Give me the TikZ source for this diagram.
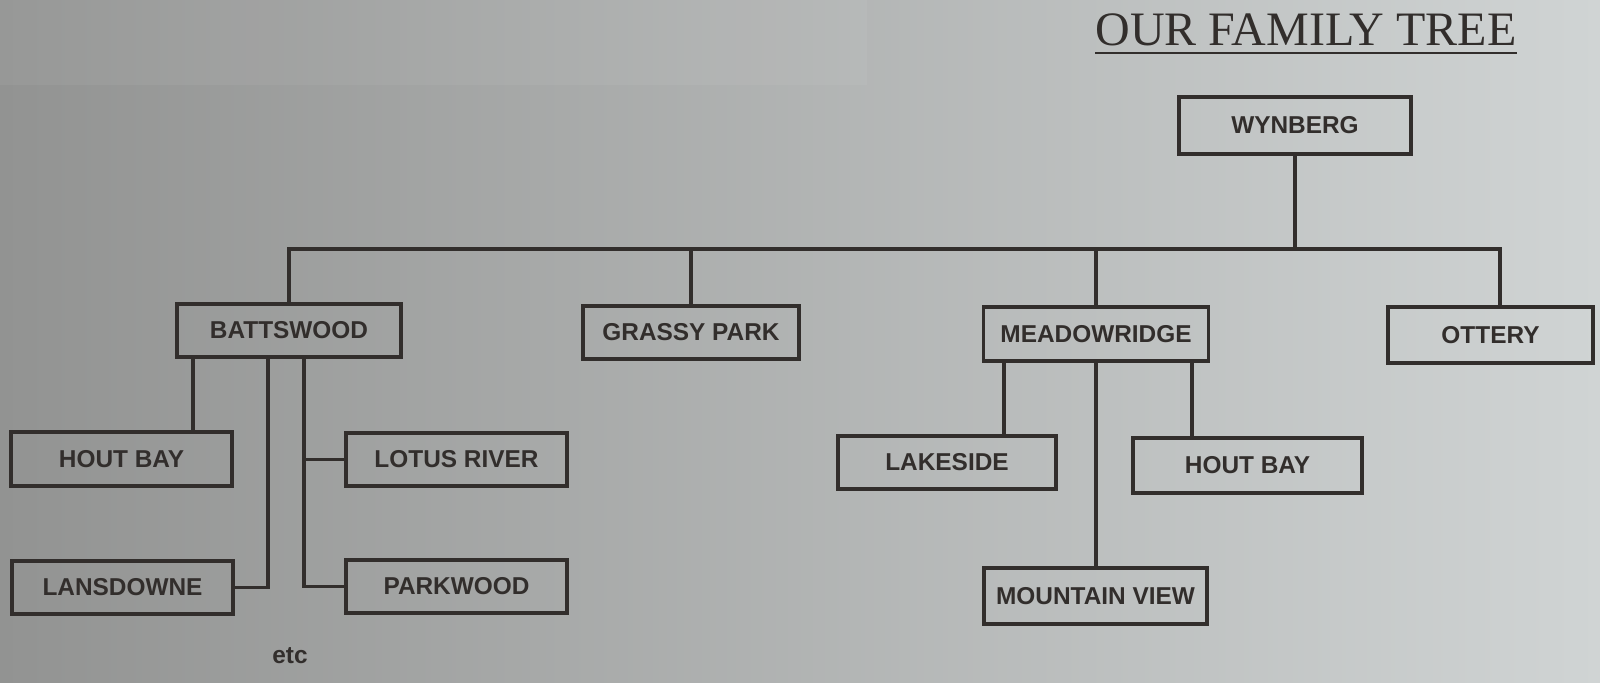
\documentclass[tikz,border=0pt]{standalone}
\usepackage{fontspec}
\setmainfont{Liberation Sans}
\newfontfamily\titlefont{Liberation Serif}
\usetikzlibrary{calc}
\definecolor{ink}{RGB}{50,46,44}
\definecolor{bgl}{RGB}{146,147,146}
\definecolor{bgr}{RGB}{208,212,212}
\begin{document}
\begin{tikzpicture}[x=0.5pt,y=-0.5pt,
  box/.style={draw=ink, line width=1.7pt, rectangle, inner sep=0pt, text=ink,
    font=\bfseries\fontsize{12.2pt}{14pt}\selectfont},
  link/.style={draw=ink, line width=1.6pt}]
\useasboundingbox (0,0) rectangle (1600,682);
\shade[left color=bgl, right color=bgr] (0,0) rectangle (1600,682);
\fill[white, opacity=0.05] (0,0) rectangle (867,85);

\node[anchor=base west, inner sep=0pt, text=ink, font=\titlefont\fontsize{24pt}{28pt}\selectfont] (T) at (1095,45) {OUR FAMILY TREE};
\draw[ink, line width=1.2pt] ($(T.base west)+(0,8)$) -- ($(T.base east)+(0,8)$);

\node[box, minimum width=116pt, minimum height=28.5pt] (W) at (1295,125.5) {WYNBERG};
\node[box, minimum width=112pt, minimum height=26.5pt] (B) at (289,330.5) {BATTSWOOD};
\node[box, minimum width=108pt, minimum height=26.5pt] (G) at (691,332.5) {GRASSY PARK};
\node[box, minimum width=112.5pt, minimum height=27pt] (M) at (1096,334) {MEADOWRIDGE};
\node[box, minimum width=102.5pt, minimum height=28pt] (O) at (1490.5,335) {OTTERY};
\node[box, minimum width=110.5pt, minimum height=27pt] (HL) at (121.5,459) {HOUT BAY};
\node[box, minimum width=110.5pt, minimum height=26.5pt] (LD) at (122.5,587.5) {LANSDOWNE};
\node[box, minimum width=110.5pt, minimum height=26.5pt] (LR) at (456.5,459.5) {LOTUS RIVER};
\node[box, minimum width=110.5pt, minimum height=26.5pt] (PW) at (456.5,586.5) {PARKWOOD};
\node[box, minimum width=109pt, minimum height=26.5pt] (LK) at (947,462.5) {LAKESIDE};
\node[box, minimum width=114.5pt, minimum height=27.5pt] (HR) at (1247.5,465.5) {HOUT BAY};
\node[box, minimum width=111.5pt, minimum height=28pt] (MV) at (1095.5,596) {MOUNTAIN VIEW};
\node[anchor=base, text=ink, inner sep=0pt, font=\bfseries\fontsize{12.2pt}{14pt}\selectfont] (etc) at (290,663) {etc};

\coordinate (bus) at (0,249);
\coordinate (xo) at (1500,0);
\coordinate (xhl) at (193,0);
\coordinate (xld) at (268,0);
\coordinate (xlr) at (304,0);
\coordinate (xlk) at (1004,0);
\coordinate (xhr) at (1192,0);

\draw[link] (W.south) -- (W.south |- bus);
\draw[link] (B.north) -- (B.north |- bus) -- (xo |- bus) -- (xo |- O.north);
\draw[link] (G.north) -- (G.north |- bus);
\draw[link] (M.north) -- (M.north |- bus);
\draw[link] (xhl |- B.south) -- (xhl |- HL.north);
\draw[link] (xld |- B.south) |- (LD.east);
\draw[link] (xlr |- B.south) |- (PW.west);
\draw[link] (xlr |- LR.west) -- (LR.west);
\draw[link] (xlk |- M.south) -- (xlk |- LK.north);
\draw[link] (xhr |- M.south) -- (xhr |- HR.north);
\draw[link] (M.south) -- (M.south |- MV.north);
\end{tikzpicture}
\end{document}
